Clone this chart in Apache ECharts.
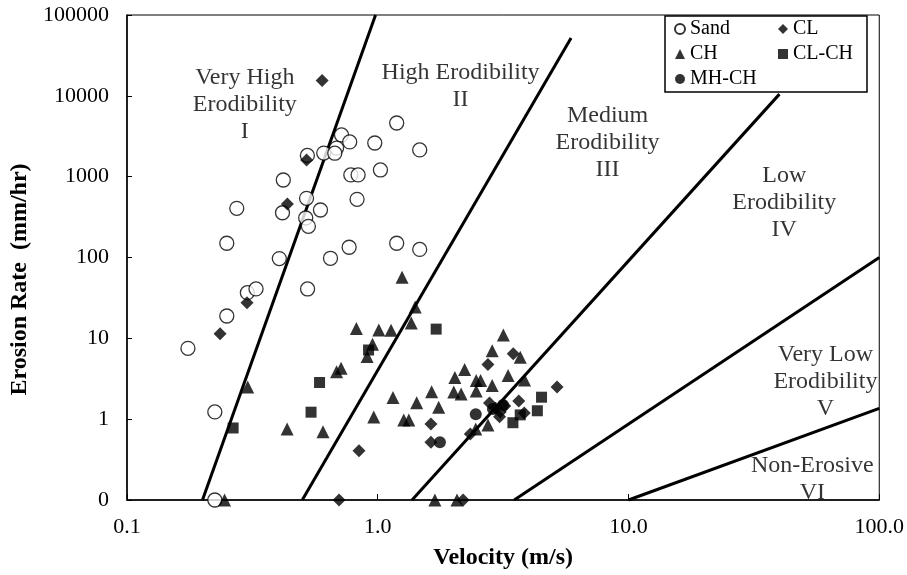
<!DOCTYPE html>
<html lang="en">
<head>
<meta charset="UTF-8">
<title>Erosion Rate vs Velocity</title>
<script src="https://cdn.jsdelivr.net/npm/echarts@6/dist/echarts.min.js"></script>
<style>
    html, body { margin: 0; padding: 0; background: #fff; }
    #main { width: 907px; height: 575px; }
</style>
</head>
<body>
<div id="main"></div>
<script>
    // velocity (m/s), erosion rate (mm/hr); rate 0 is plotted on the 0.1 floor
    const sand = [
        [0.42, 910], [0.417, 358], [0.274, 406], [0.25, 150], [0.405, 97], [0.302, 36.7],
        [0.327, 40.9], [0.524, 1830], [0.609, 1960], [0.717, 3280], [0.773, 2690], [0.685, 2260],
        [0.674, 1950], [0.973, 2610], [1.19, 4610], [1.47, 2140], [0.781, 1050], [0.835, 1050],
        [1.025, 1210], [0.827, 525], [0.591, 387], [0.52, 540], [0.516, 308], [0.529, 243],
        [0.769, 134], [0.648, 97.8], [1.19, 150], [1.47, 126], [0.525, 40.8], [0.25, 18.9],
        [0.175, 7.53], [0.224, 1.23], [0.224, 0.1]
    ];
    const cl = [
        [0.6, 15490], [0.52, 1610], [0.436, 459], [0.301, 27.6], [0.235, 11.4], [0.842, 0.407],
        [0.701, 0.1], [2.19, 0.1], [1.63, 0.871], [1.63, 0.518], [2.34, 0.655], [2.75, 4.75],
        [3.47, 6.45], [5.19, 2.5], [3.65, 1.68], [3.84, 1.19], [2.79, 1.59], [2.95, 1.36],
        [3.08, 1.23], [3.21, 1.46], [3.06, 1.07]
    ];
    const ch = [
        [1.25, 56.9], [1.41, 24.4], [1.36, 15.5], [0.822, 13.2], [1.01, 12.7], [1.13, 12.6],
        [0.953, 8.46], [0.907, 5.98], [0.685, 3.87], [0.714, 4.26], [0.303, 2.5], [0.435, 0.756],
        [0.605, 0.7], [0.245, 0.1], [1.15, 1.85], [0.964, 1.06], [1.27, 0.977], [1.33, 0.977],
        [1.43, 1.6], [1.64, 2.19], [1.75, 1.4], [1.69, 0.1], [2.07, 0.1], [2.22, 4.12],
        [2.03, 3.28], [2.01, 2.17], [2.15, 2.05], [2.47, 3.01], [2.57, 3.01], [2.47, 2.23],
        [2.86, 2.61], [2.86, 7.03], [3.17, 11.0], [3.7, 5.83], [3.31, 3.47], [3.85, 3.05],
        [2.75, 0.848], [2.46, 0.756]
    ];
    const clch = [
        [0.265, 0.778], [0.586, 2.84], [0.542, 1.22], [0.919, 7.17], [1.71, 13.0],
        [4.5, 1.87], [4.33, 1.27], [3.7, 1.13], [3.46, 0.904]
    ];
    const mhch = [
        [1.77, 0.518], [2.46, 1.15], [2.88, 1.34], [3.16, 1.5]
    ];

    // zone boundaries, end points
    const boundaries = [
        [[0.2, 0.1], [0.98, 100000]],
        [[0.5, 0.1], [5.9, 52000]],
        [[1.37, 0.1], [40, 10500]],
        [[3.5, 0.1], [100, 100]],
        [[10, 0.1], [100, 1.36]]
    ];

    const zoneNames = [
        'Very High\nErodibility\nI',
        'High Erodibility\nII',
        'Medium\nErodibility\nIII',
        'Low\nErodibility\nIV',
        'Very Low\nErodibility\nV',
        'Non-Erosive\nVI'
    ];
    const zoneAt = [
        [0.295, 7700], [2.14, 13060], [8.25, 2610], [41.8, 472], [61, 2.88], [54.1, 0.182]
    ];

    const xTicks = [0.1, 1, 10, 100];
    const yTicks = [0.1, 1, 10, 100, 1000, 10000, 100000];

    const FONT = '"Liberation Serif", "Times New Roman", serif';

    var chart = echarts.init(document.getElementById('main'));

    function pointSeries(name, data, symbol, size, style) {
        return {
            name: name,
            type: 'scatter',
            data: data,
            symbol: symbol,
            symbolSize: size,
            itemStyle: style,
            z: 4
        };
    }

    var series = [
        pointSeries('Sand', sand, 'circle', 14, {color: '#fff', borderColor: '#000', borderWidth: 1.3}),
        pointSeries('CL', cl, 'diamond', 13, {color: '#000'}),
        pointSeries('CH', ch, 'triangle', 13, {color: '#000'}),
        pointSeries('CL-CH', clch, 'rect', 11, {color: '#000'}),
        pointSeries('MH-CH', mhch, 'circle', 12, {color: '#000'})
    ];

    boundaries.forEach(function (seg, i) {
        series.push({
            name: 'boundary' + i,
            type: 'line',
            data: seg,
            showSymbol: false,
            symbol: 'none',
            lineStyle: {color: '#000', width: 3},
            silent: true,
            z: 2
        });
    });

    series.push({
        name: 'zones',
        type: 'scatter',
        symbol: 'circle',
        symbolSize: 1,
        itemStyle: {color: 'transparent'},
        silent: true,
        z: 3,
        data: zoneAt.map(function (p, i) {
            return {value: p, label: {formatter: zoneNames[i]}};
        }),
        label: {
            show: true,
            position: 'inside',
            color: '#000',
            fontFamily: FONT,
            fontSize: 24,
            lineHeight: 27,
            align: 'center'
        }
    });

    var option = {
        animation: false,
        textStyle: {fontFamily: FONT, color: '#000'},
        grid: {
            left: 127, right: 27, top: 15, bottom: 75,
            show: true, borderColor: '#000', borderWidth: 1
        },
        legend: {
            left: 665,
            top: 16,
            width: 190,
            padding: [3, 14, 3, 9],
            itemGap: 5,
            itemWidth: 10,
            itemHeight: 10,
            backgroundColor: '#fff',
            borderColor: '#000',
            borderWidth: 1.5,
            borderRadius: 0,
            textStyle: {fontSize: 20, lineHeight: 20, color: '#000', fontFamily: FONT},
            data: [
                {name: 'Sand', textStyle: {width: 83}},
                {name: 'CL'},
                {name: 'CH', textStyle: {width: 83}},
                {name: 'CL-CH'},
                {name: 'MH-CH', textStyle: {width: 83}}
            ]
        },
        xAxis: {
            type: 'log',
            logBase: 10,
            min: xTicks[0],
            max: xTicks[xTicks.length - 1],
            name: 'Velocity (m/s)',
            nameLocation: 'middle',
            nameGap: 46,
            nameTextStyle: {fontSize: 24, fontWeight: 'bold', color: '#000', fontFamily: FONT},
            axisLine: {lineStyle: {color: '#000', width: 1.5}},
            axisTick: {inside: true, length: 6, lineStyle: {color: '#000'}},
            splitLine: {show: false},
            axisLabel: {
                margin: 16,
                fontSize: 22,
                color: '#000',
                fontFamily: FONT,
                formatter: function (v) { return Number(v).toFixed(1); }
            }
        },
        yAxis: {
            type: 'log',
            logBase: 10,
            min: yTicks[0],
            max: yTicks[yTicks.length - 1],
            name: 'Erosion Rate  (mm/hr)',
            nameLocation: 'middle',
            nameGap: 93,
            nameTextStyle: {
                fontSize: 24, fontWeight: 'bold', color: '#000', fontFamily: FONT,
                padding: [0, 44, 0, 0]
            },
            axisLine: {lineStyle: {color: '#000', width: 1.5}},
            axisTick: {inside: true, length: 5, lineStyle: {color: '#000'}},
            splitLine: {show: false},
            axisLabel: {
                margin: 18,
                fontSize: 22,
                color: '#000',
                fontFamily: FONT,
                formatter: function (v) { return v < 1 ? '0' : String(Math.round(v)); }
            }
        },
        series: series
    };

    chart.setOption(option);
</script>
</body>
</html>
